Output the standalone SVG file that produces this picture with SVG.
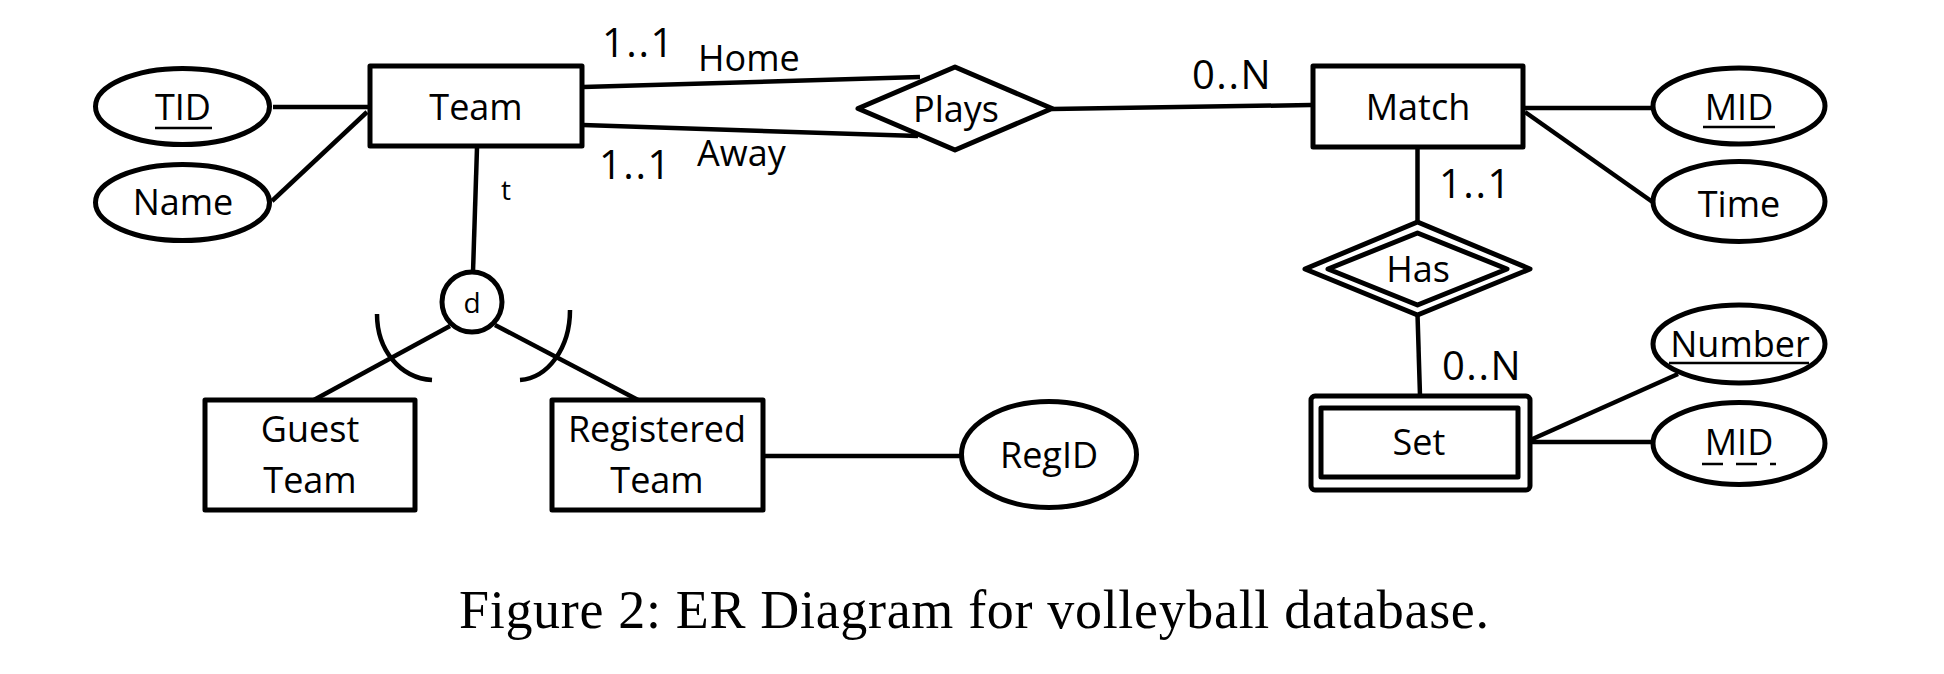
<svg xmlns="http://www.w3.org/2000/svg" width="1944" height="674" viewBox="0 0 1944 674">
<style>
.shape{fill:#fff;stroke:#000;stroke-width:5;stroke-linejoin:round}
.ln{fill:none;stroke:#000;stroke-width:4.5}
.t{font-family:"Open Sans","Liberation Sans",sans-serif;font-size:36px;fill:#000;text-anchor:middle}
.lab{font-family:"Open Sans","Liberation Sans",sans-serif;font-size:36px;fill:#000}
.num{font-family:"Open Sans","Liberation Sans",sans-serif;font-size:40px;fill:#000;letter-spacing:1.5px}
.sm{font-family:"Open Sans","Liberation Sans",sans-serif;font-size:28px;fill:#000;text-anchor:middle}
.cap{font-family:"Liberation Serif","Times New Roman",serif;font-size:54px;fill:#000}
</style>
<rect width="1944" height="674" fill="#fff"/>
<g id="connectors">
<line class="ln" x1="273" y1="107" x2="368" y2="107"/>
<line class="ln" x1="272" y1="201" x2="367" y2="112"/>
<line class="ln" x1="583" y1="87" x2="920" y2="77"/>
<line class="ln" x1="583" y1="125" x2="918" y2="136"/>
<line class="ln" x1="1052" y1="109" x2="1311" y2="105"/>
<line class="ln" x1="477" y1="148" x2="473" y2="272"/>
<line class="ln" x1="450" y1="326" x2="312" y2="401"/>
<line class="ln" x1="495" y1="325" x2="640" y2="401"/>
<path class="ln" d="M377,314 C377,350 400,378 432,380"/>
<path class="ln" d="M570,310 C570,348 548,378 520,380"/>
<line class="ln" x1="764" y1="456" x2="962" y2="456"/>
<line class="ln" x1="1525" y1="108" x2="1653" y2="108"/>
<line class="ln" x1="1525" y1="112" x2="1654" y2="203"/>
<line class="ln" x1="1417.5" y1="148" x2="1417.5" y2="223"/>
<line class="ln" x1="1417.5" y1="314" x2="1420" y2="396"/>
<line class="ln" x1="1528" y1="441" x2="1678" y2="374"/>
<line class="ln" x1="1528" y1="442" x2="1653" y2="442"/>
<text class="num" x="602" y="57">1..1</text>
<text class="lab" x="698" y="71">Home</text>
<text class="num" x="599" y="179">1..1</text>
<text class="lab" x="697" y="166">Away</text>
<text class="num" x="1192" y="89">0..N</text>
<text class="num" x="1439" y="198">1..1</text>
<text class="num" x="1442" y="380">0..N</text>
<text class="sm" x="506" y="200">t</text>
</g>
<g id="team">
<rect class="shape" x="370" y="66" width="212" height="80"/>
<text class="t" x="476" y="120">Team</text>
</g>
<g id="tid">
<ellipse class="shape" cx="182.5" cy="106.5" rx="87" ry="38"/>
<text class="t" x="183" y="120">TID</text>
<line x1="155" y1="128" x2="212" y2="128" stroke="#000" stroke-width="2.5"/>
</g>
<g id="name">
<ellipse class="shape" cx="182.5" cy="202.5" rx="87" ry="38"/>
<text class="t" x="183" y="215">Name</text>
</g>
<g id="plays">
<polygon class="shape" points="858,108.5 955,67 1052,108.5 955,150"/>
<text class="t" x="956" y="122">Plays</text>
</g>
<g id="match">
<rect class="shape" x="1313" y="66" width="210" height="81"/>
<text class="t" x="1418" y="120">Match</text>
</g>
<g id="mid">
<ellipse class="shape" cx="1739" cy="106" rx="86" ry="38"/>
<text class="t" x="1739" y="120">MID</text>
<line x1="1703" y1="127" x2="1775" y2="127" stroke="#000" stroke-width="2.5"/>
</g>
<g id="time">
<ellipse class="shape" cx="1739" cy="201.5" rx="86" ry="40"/>
<text class="t" x="1739" y="217">Time</text>
</g>
<g id="has">
<polygon class="shape" points="1305,269 1417.5,222 1530,269 1417.5,315"/>
<polygon class="shape" points="1328,269 1417.5,233 1507,269 1417.5,305"/>
<text class="t" x="1418" y="282">Has</text>
</g>
<g id="set">
<rect class="shape" x="1311" y="396" width="219" height="94" rx="4" stroke-width="4.5"/>
<rect class="shape" x="1321" y="408" width="197" height="69" stroke-width="6"/>
<text class="t" x="1419" y="455">Set</text>
</g>
<g id="number">
<ellipse class="shape" cx="1739" cy="344" rx="86" ry="39"/>
<text class="t" x="1740" y="357">Number</text>
<line x1="1669" y1="363" x2="1809" y2="363" stroke="#000" stroke-width="2.5"/>
</g>
<g id="mid2">
<ellipse class="shape" cx="1739" cy="443.5" rx="86" ry="41"/>
<text class="t" x="1739" y="455">MID</text>
<line x1="1702" y1="464" x2="1776" y2="464" stroke="#000" stroke-width="2.5" stroke-dasharray="21 13"/>
</g>
<g id="d">
<circle class="shape" cx="472" cy="302" r="30"/>
<text class="sm" x="472" y="313">d</text>
</g>
<g id="guest">
<rect class="shape" x="205" y="400" width="210" height="110"/>
<text class="t" x="310" y="442">Guest</text>
<text class="t" x="310" y="493">Team</text>
</g>
<g id="registered">
<rect class="shape" x="552" y="400" width="211" height="110"/>
<text class="t" x="657" y="442">Registered</text>
<text class="t" x="657" y="493">Team</text>
</g>
<g id="regid">
<ellipse class="shape" cx="1049" cy="454.5" rx="87.5" ry="53"/>
<text class="t" x="1049" y="468">RegID</text>
</g>
<text class="cap" x="459" y="628" textLength="1030" lengthAdjust="spacing">Figure 2: ER Diagram for volleyball database.</text>
</svg>
